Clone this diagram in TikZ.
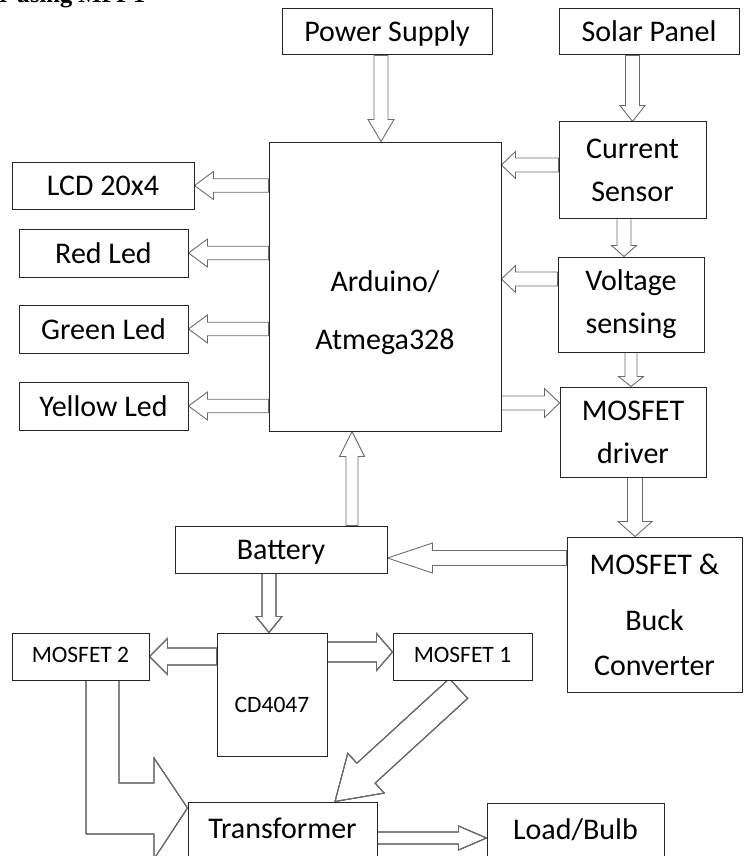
\documentclass[tikz,border=0pt]{standalone}
\usepackage{fontspec}
\setmainfont{Carlito}
\newfontfamily\captionfont{Liberation Serif}
\usetikzlibrary{calc,backgrounds}

\definecolor{boxline}{gray}{0.15}
\definecolor{arrowgray}{gray}{0.42}

\newcommand{\blockarrow}[5]{%
   \coordinate (ba-s) at (#1);
   \coordinate (ba-t) at (#2);
   \coordinate (ba-b) at ($(ba-t)!#5!(ba-s)$);
   \draw[arrowline] ($(ba-s)!#3/2!90:(ba-t)$) -- ($(ba-b)!#3/2!-90:(ba-s)$)
      -- ($(ba-b)!#4/2!-90:(ba-s)$) -- (ba-t) -- ($(ba-b)!#4/2!90:(ba-s)$)
      -- ($(ba-b)!#3/2!90:(ba-s)$) -- ($(ba-s)!#3/2!-90:(ba-t)$) -- cycle;
}

\begin{document}
\begin{tikzpicture}[x=1pt,y=-1pt,
   block/.style={draw=boxline,fill=white,line width=1pt,inner sep=0pt,
      align=center,font=\fontsize{30}{43}\selectfont},
   oneline/.style={block,text height=27pt,text depth=7pt},
   smallblock/.style={block,font=\fontsize{23.5}{28}\selectfont,
      text height=16.5pt,text depth=5.5pt},
   arrowline/.style={draw=arrowgray,line width=0.9pt,line join=miter}
]
   \useasboundingbox (0,0) rectangle (744,856);

   \node[anchor=base east,inner sep=0pt,
      font=\captionfont\bfseries\fontsize{24.5}{30}\selectfont] (caption) at (148,3) {r using MPPT};

   \node[oneline,minimum width=210pt,minimum height=46pt] (power) at (387,32) {Power Supply};
   \node[oneline,minimum width=180pt,minimum height=46pt] (solar) at (649,32) {Solar Panel};
   \node[block,minimum width=232pt,minimum height=289pt] (arduino) at (385,286.5) {};
   \node[inner sep=0pt,align=center,font=\fontsize{30}{43}\selectfont] (arduinolbl)
      at (385,313) {Arduino/\\[15pt]Atmega328};
   \node[block,minimum width=147pt,minimum height=96pt] (current) at (632.5,170) {Current\\Sensor};
   \node[block,minimum width=146pt,minimum height=95pt] (voltage) at (631,304.5) {Voltage\\sensing};
   \node[block,minimum width=146pt,minimum height=90pt] (driver) at (633,432) {MOSFET\\driver};

   \node[oneline,minimum width=182pt,minimum height=47pt] (lcd) at (103,185.5) {LCD 20x4};
   \node[oneline,minimum width=169pt,minimum height=48pt] (redled) at (103.5,253) {Red Led};
   \node[oneline,minimum width=169pt,minimum height=48pt] (greenled) at (103.5,329) {Green Led};
   \node[oneline,minimum width=169pt,minimum height=48pt] (yellowled) at (103.5,406) {Yellow Led};

   \node[oneline,minimum width=212pt,minimum height=47pt] (battery) at (281,549.5) {Battery};
   \node[block,minimum width=175pt,minimum height=155pt] (buck) at (654.5,614.5)
      {MOSFET \&\\[13pt]Buck\\[2pt]Converter};
   \node[smallblock,minimum width=110pt,minimum height=123pt,text height=37pt,text depth=2pt]
      (cdchip) at (272,694.5) {CD4047};
   \node[smallblock,minimum width=137pt,minimum height=47pt] (mosfettwo) at (80.5,656.5) {MOSFET 2};
   \node[smallblock,minimum width=139pt,minimum height=47pt] (mosfetone) at (462.5,656.5) {MOSFET 1};
   \node[block,minimum width=189pt,minimum height=58pt,text height=30pt,text depth=16pt]
      (transformer) at (282.5,831) {Transformer};
   \node[block,minimum width=177pt,minimum height=58pt,text height=30pt,text depth=16pt]
      (load) at (575.5,832) {Load/Bulb};

   \begin{scope}[on background layer]
      \blockarrow{power.south -| 381,0}{arduino.north -| 381,0}{14pt}{26pt}{22pt}
      \blockarrow{current.north |- solar.south}{current.north}{14pt}{25pt}{16pt}
      \blockarrow{current.west |- 0,165}{arduino.east |- 0,165}{14pt}{27pt}{14pt}
      \blockarrow{current.south -| 624,0}{voltage.north -| 624,0}{14pt}{25pt}{11pt}
      \blockarrow{voltage.west |- 0,279}{arduino.east |- 0,279}{14pt}{27pt}{14pt}
      \blockarrow{voltage.south -| 631,0}{driver.north -| 631,0}{12pt}{25pt}{10pt}
      \blockarrow{arduino.east |- 0,403}{driver.west |- 0,403}{14pt}{29pt}{15pt}
      \blockarrow{driver.south -| 635,0}{buck.north -| 635,0}{15pt}{34pt}{15pt}
      \blockarrow{buck.west |- 0,558}{battery.east |- 0,558}{15pt}{30pt}{45pt}
      \blockarrow{battery.north -| 352,0}{arduino.south -| 352,0}{12pt}{25pt}{25pt}
      \foreach \n in {lcd,redled,greenled,yellowled}
         \blockarrow{arduino.west |- \n.east}{\n.east}{13.5pt}{28pt}{19pt}
      \blockarrow{battery.south -| 269,0}{cdchip.north -| 269,0}{14pt}{26pt}{16pt}
      \blockarrow{cdchip.west |- mosfettwo.east}{mosfettwo.east}{17pt}{36pt}{18pt}
      \blockarrow{cdchip.east |- 0,652}{mosfetone.west |- 0,652}{20pt}{37pt}{16pt}
      \blockarrow{[shift={(-4,8)}]mosfetone.south}{transformer.north -| 335,0}{27pt}{54pt}{42pt}
      \blockarrow{transformer.east |- 0,838}{load.west |- 0,838}{12pt}{24pt}{28pt}
      \draw[arrowline] (mosfettwo.south -| 86,0) -- (86,834) -- (154,834) -- (154,859)
         -- (transformer.west |- 0,808) -- (154,758) -- (154,783) -- (119,783)
         -- (mosfettwo.south -| 119,0) -- cycle;
   \end{scope}
\end{tikzpicture}
\end{document}
